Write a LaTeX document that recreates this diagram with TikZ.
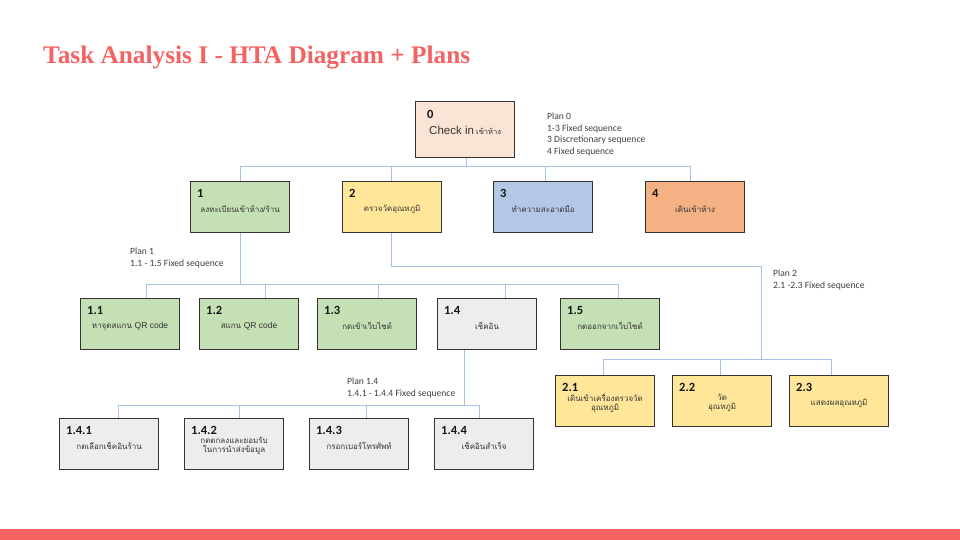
\documentclass[tikz,border=0pt]{standalone}
\usepackage{fontspec}
\setmainfont{Carlito}
\newfontfamily\thaifont[Script=Thai]{Loma}
\newfontfamily\arialfont{Liberation Sans}
\newfontfamily\titlefont{Liberation Serif}

\definecolor{brand}{HTML}{F46262}
\definecolor{boxline}{HTML}{333333}
\definecolor{linkblue}{HTML}{A3C4E6}
\definecolor{numtext}{HTML}{151515}
\definecolor{labtext}{HTML}{333333}
\definecolor{plantext}{HTML}{3F3F3F}
\definecolor{fillpeach}{HTML}{FBE4D6}
\definecolor{fillgreen}{HTML}{C5E0B4}
\definecolor{fillyellow}{HTML}{FFE699}
\definecolor{fillblue}{HTML}{B4C7E7}
\definecolor{fillorange}{HTML}{F4B183}
\definecolor{fillgray}{HTML}{EDEDED}

% box with its number (top left) and its centred label
% #1 name, #2 x, #3 y (top left), #4 fill, #5 number, #6 label
\newcommand{\htabox}[6]{%
  \node[taskbox, fill=#4] (#1) at (#2,#3) {};
  \node[boxnum] (#1-num) at ([xshift=7pt,yshift=-12pt]#1.north west) {#5};
  \node[boxlabel] (#1-lab) at ([yshift=-28pt]#1.north) {#6};
}

\begin{document}
\begin{tikzpicture}[x=1pt,y=-1pt,
  taskbox/.style={draw=boxline, line width=1.2pt, anchor=north west,
    inner sep=0pt, minimum width=99pt, minimum height=51pt},
  boxnum/.style={anchor=west, inner sep=0pt,
    font=\fontsize{12.5}{14}\selectfont\bfseries, text=numtext},
  boxlabel/.style={inner sep=0pt, align=center, text=labtext,
    font=\thaifont\fontsize{8}{9.5}\selectfont},
  plan/.style={anchor=north west, inner sep=0pt, align=left, text=plantext,
    font=\fontsize{9.6}{11.5}\selectfont},
  link/.style={draw=linkblue, line width=0.9pt},
]
\useasboundingbox (0,0) rectangle (960,540);

% title and footer band
\node[anchor=base west, inner sep=0pt, text=brand,
  font=\titlefont\fontsize{25.3}{30}\selectfont\bfseries] (title) at (43,64)
  {Task Analysis I - HTA Diagram + Plans};
\fill[brand] (0,529) rectangle (960,540);

% level 0
\node[taskbox, fill=fillpeach, minimum height=56pt] (n0) at (415,101) {};
\node[boxnum] (n0-num) at ([xshift=12pt,yshift=-13pt]n0.north west) {0};
\node[inner sep=0pt, text=labtext] (n0-lab) at ([yshift=-29pt]n0.north)
  {{\arialfont\fontsize{11.5}{13}\selectfont Check in}
   {\thaifont\fontsize{7.5}{9}\selectfont เข้าห้าง}};

% level 1
\htabox{n1}{190}{181}{fillgreen}{1}{ลงทะเบียนเข้าห้าง/ร้าน}
\htabox{n2}{342}{181}{fillyellow}{2}{ตรวจวัดอุณหภูมิ}
\htabox{n3}{493}{181}{fillblue}{3}{ทำความสะอาดมือ}
\htabox{n4}{645}{181}{fillorange}{4}{เดินเข้าห้าง}

% level 2 under 1
\htabox{n11}{80}{298}{fillgreen}{1.1}{หาจุดสแกน {\arialfont\fontsize{8.5}{10}\selectfont QR code}}
\htabox{n12}{199}{298}{fillgreen}{1.2}{สแกน {\arialfont\fontsize{8.5}{10}\selectfont QR code}}
\htabox{n13}{317}{298}{fillgreen}{1.3}{กดเข้าเว็บไซต์}
\htabox{n14}{437}{298}{fillgray}{1.4}{เช็คอิน}
\htabox{n15}{560}{298}{fillgreen}{1.5}{กดออกจากเว็บไซต์}

% level 2 under 2
\htabox{n21}{555}{375}{fillyellow}{2.1}{เดินเข้าเครื่องตรวจวัด\\อุณหภูมิ}
\htabox{n22}{672}{375}{fillyellow}{2.2}{วัด\\อุณหภูมิ}
\htabox{n23}{789}{375}{fillyellow}{2.3}{แสดงผลอุณหภูมิ}

% level 3 under 1.4
\htabox{n141}{59}{418}{fillgray}{1.4.1}{กดเลือกเช็คอินร้าน}
\htabox{n142}{184}{418}{fillgray}{1.4.2}{กดตกลงและยอมรับ\\ในการนำส่งข้อมูล}
\htabox{n143}{309}{418}{fillgray}{1.4.3}{กรอกเบอร์โทรศัพท์}
\htabox{n144}{434}{418}{fillgray}{1.4.4}{เช็คอินสำเร็จ}

% plans
\node[plan] (plan0) at (547,113) {Plan 0\\1-3 Fixed sequence\\3 Discretionary sequence\\4 Fixed sequence};
\node[plan] (plan1) at (130,248) {Plan 1\\1.1 - 1.5 Fixed sequence};
\node[plan] (plan2) at (773,270) {Plan 2\\2.1 -2.3 Fixed sequence};
\node[plan] (plan14) at (347,378) {Plan 1.4\\1.4.1 - 1.4.4 Fixed sequence};

% connectors: 0 -> 1..4
\coordinate (j0) at (466,166);
\coordinate (c1) at (240,166);
\coordinate (c2) at (391,166);
\coordinate (c3) at (545,166);
\coordinate (c4) at (690,166);
\draw[link] (j0 |- n0.south) -- (j0);
\draw[link] (c1) -- (c4);
\foreach \k in {1,...,4} \draw[link] (c\k) -- (c\k |- n\k.north);

% connectors: 1 -> 1.1..1.5
\coordinate (j1) at (240,284);
\coordinate (c11) at (146,284);
\coordinate (c12) at (265,284);
\coordinate (c13) at (378,284);
\coordinate (c14) at (505,284);
\coordinate (c15) at (618,284);
\draw[link] (j1 |- n1.south) -- (j1);
\draw[link] (c11) -- (c15);
\foreach \k in {11,...,15} \draw[link] (c\k) -- (c\k |- n\k.north);

% connectors: 2 -> 2.1..2.3
\coordinate (k2) at (761,266);
\coordinate (j2) at (761,359);
\coordinate (c21) at (603,359);
\coordinate (c22) at (720,359);
\coordinate (c23) at (831,359);
\draw[link] (c2 |- n2.south) |- (k2) -- (j2);
\draw[link] (c21) -- (c23);
\foreach \k in {21,22,23} \draw[link] (c\k) -- (c\k |- n\k.north);

% connectors: 1.4 -> 1.4.1..1.4.4
\coordinate (j14) at (464,405);
\coordinate (c141) at (118,405);
\coordinate (c142) at (239,405);
\coordinate (c143) at (366,405);
\coordinate (c144) at (479,405);
\draw[link] (j14 |- n14.south) -- (j14);
\draw[link] (c141) -- (c144);
\foreach \k in {141,...,144} \draw[link] (c\k) -- (c\k |- n\k.north);
\end{tikzpicture}
\end{document}
